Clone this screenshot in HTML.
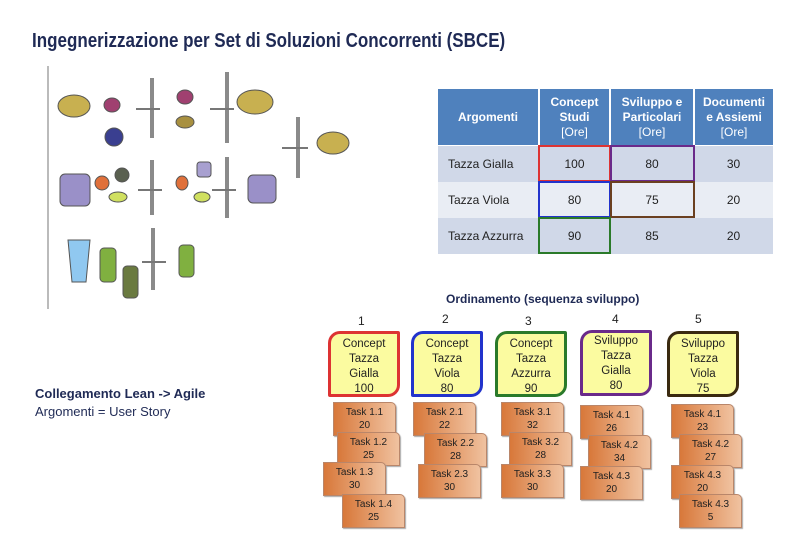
<!DOCTYPE html>
<html><head><meta charset="utf-8"><style>
body{margin:0;width:800px;height:557px;background:#fff;position:relative;overflow:hidden;font-family:"Liberation Sans",sans-serif;}
.a{position:absolute;}
.t{position:absolute;left:32px;top:30px;font-size:20px;font-weight:bold;color:#1f2a55;white-space:nowrap;transform:scaleX(0.85);transform-origin:left top;}
table{position:absolute;left:438px;top:89px;border-collapse:collapse;font-size:12px;table-layout:fixed;}
td{padding:0;text-align:center;color:#222}
.h td{background:#4f81bd;color:#fff;font-weight:bold;height:56px;border-right:2px solid #fff;line-height:15px}
.r1 td{background:#d0d8e8;height:36px;border-top:1px solid #fff}
.r2 td{background:#e9edf4;height:36px}
.r3 td{background:#d0d8e8;height:36px}
td.l{text-align:left;padding-left:10px}
.bx{position:absolute;border:2px solid;box-sizing:border-box;}
.card{position:absolute;width:72px;height:66px;background:#fbfba0;border:3px solid;box-sizing:border-box;border-radius:12px 2px 12px 2px;font-size:11.5px;text-align:center;line-height:15px;padding-top:3px;color:#222}
.num{position:absolute;font-size:12px;color:#222}
.task{position:absolute;width:63px;height:34px;background:linear-gradient(90deg,#d8783a,#f0c2a0);border:1px solid #b9866a;box-sizing:border-box;border-radius:0 5px 0 0;font-size:10px;text-align:center;line-height:13px;padding-top:3px;color:#222;box-shadow:1px 1px 1px #aaa}
</style></head><body>
<div class="t">Ingegnerizzazione per Set di Soluzioni Concorrenti (SBCE)</div>
<div class="a" style="left:47px;top:66px;width:2px;height:243px;background:#bbb"></div>
<svg class="a" style="left:0;top:0" width="800" height="557">
<g fill="#8a8a8a">
<rect x="150" y="78" width="4" height="60"/><rect x="225" y="72" width="4" height="71"/><rect x="296" y="117" width="4" height="61"/>
<rect x="150" y="160" width="4" height="55"/><rect x="225" y="157" width="4" height="61"/><rect x="151" y="228" width="4" height="62"/>
</g>
<g stroke="#777" stroke-width="2">
<line x1="136" y1="109" x2="160" y2="109"/><line x1="210" y1="109" x2="234" y2="109"/><line x1="282" y1="148" x2="308" y2="148"/>
<line x1="138" y1="190" x2="162" y2="190"/><line x1="212" y1="190" x2="236" y2="190"/><line x1="142" y1="262" x2="166" y2="262"/>
</g>
<g stroke="#555" stroke-width="1">
<ellipse cx="74" cy="106" rx="16" ry="11" fill="#c8b050"/><ellipse cx="112" cy="105" rx="8" ry="7" fill="#a04070"/><ellipse cx="114" cy="137" rx="9" ry="9" fill="#3a3f90"/>
<ellipse cx="185" cy="97" rx="8" ry="7" fill="#a04070"/><ellipse cx="185" cy="122" rx="9" ry="6" fill="#a89040"/>
<ellipse cx="255" cy="102" rx="18" ry="12" fill="#c8b050"/><ellipse cx="333" cy="143" rx="16" ry="11" fill="#c8b050"/>
<rect x="60" y="174" width="30" height="32" rx="5" fill="#9a90c8"/><ellipse cx="102" cy="183" rx="7" ry="7" fill="#e0703a"/><ellipse cx="122" cy="175" rx="7" ry="7" fill="#5a6050"/><ellipse cx="118" cy="197" rx="9" ry="5" fill="#d0e060"/>
<rect x="197" y="162" width="14" height="15" rx="3" fill="#a8a0d0"/><ellipse cx="182" cy="183" rx="6" ry="7" fill="#e0703a"/><ellipse cx="202" cy="197" rx="8" ry="5" fill="#d0e060"/>
<rect x="248" y="175" width="28" height="28" rx="5" fill="#9a90c8"/>
<path d="M68 240 H90 L86 282 H72 Z" fill="#90c8f0"/><rect x="100" y="248" width="16" height="34" rx="4" fill="#80b040"/><rect x="123" y="266" width="15" height="32" rx="4" fill="#6a7a40"/><rect x="179" y="245" width="15" height="32" rx="4" fill="#80b040"/>
</g>
</svg>
<table style="width:335px">
<colgroup><col style="width:101px"><col style="width:71px"><col style="width:84px"><col style="width:79px"></colgroup>
<tr class="h"><td>Argomenti</td><td>Concept<br>Studi<br><span style="font-weight:normal">[Ore]</span></td><td>Sviluppo e<br>Particolari<br><span style="font-weight:normal">[Ore]</span></td><td style="border-right:0">Documenti<br>e Assiemi<br><span style="font-weight:normal">[Ore]</span></td></tr>
<tr class="r1"><td class="l">Tazza Gialla</td><td>100</td><td>80</td><td>30</td></tr>
<tr class="r2"><td class="l">Tazza Viola</td><td>80</td><td>75</td><td>20</td></tr>
<tr class="r3"><td class="l">Tazza Azzurra</td><td>90</td><td>85</td><td>20</td></tr>
</table>
<div class="bx" style="left:538px;top:145px;width:73px;height:37px;border-color:#d33"></div>
<div class="bx" style="left:610px;top:145px;width:85px;height:37px;border-color:#6a2a8a"></div>
<div class="bx" style="left:538px;top:181px;width:73px;height:37px;border-color:#2233cc"></div>
<div class="bx" style="left:610px;top:181px;width:85px;height:37px;border-color:#6b4020"></div>
<div class="bx" style="left:538px;top:217px;width:73px;height:37px;border-color:#2a7a2a"></div>
<div class="a" style="left:446px;top:292px;font-size:12px;font-weight:bold;color:#1f2a55">Ordinamento (sequenza sviluppo)</div>
<div class="num" style="left:358px;top:314px">1</div><div class="num" style="left:442px;top:312px">2</div><div class="num" style="left:525px;top:314px">3</div><div class="num" style="left:612px;top:312px">4</div><div class="num" style="left:695px;top:312px">5</div>
<div class="card" style="left:328px;top:331px;border-color:#d33">Concept<br>Tazza<br>Gialla<br>100</div>
<div class="card" style="left:411px;top:331px;border-color:#2233cc">Concept<br>Tazza<br>Viola<br>80</div>
<div class="card" style="left:495px;top:331px;border-color:#2a7a2a">Concept<br>Tazza<br>Azzurra<br>90</div>
<div class="card" style="left:580px;top:330px;border-color:#6a2a8a;padding-top:1px">Sviluppo<br>Tazza<br>Gialla<br>80</div>
<div class="card" style="left:667px;top:331px;border-color:#3a2a10">Sviluppo<br>Tazza<br>Viola<br>75</div>
<div class="a" style="left:35px;top:386px;font-size:13px;font-weight:bold;color:#1f2a55">Collegamento Lean -&gt; Agile</div>
<div class="a" style="left:35px;top:404px;font-size:13px;color:#1f2a55">Argomenti = User Story</div>
<div class="task" style="left:333px;top:402px">Task 1.1<br>20</div>
<div class="task" style="left:337px;top:432px">Task 1.2<br>25</div>
<div class="task" style="left:323px;top:462px">Task 1.3<br>30</div>
<div class="task" style="left:342px;top:494px">Task 1.4<br>25</div>
<div class="task" style="left:413px;top:402px">Task 2.1<br>22</div>
<div class="task" style="left:424px;top:433px">Task 2.2<br>28</div>
<div class="task" style="left:418px;top:464px">Task 2.3<br>30</div>
<div class="task" style="left:501px;top:402px">Task 3.1<br>32</div>
<div class="task" style="left:509px;top:432px">Task 3.2<br>28</div>
<div class="task" style="left:501px;top:464px">Task 3.3<br>30</div>
<div class="task" style="left:580px;top:405px">Task 4.1<br>26</div>
<div class="task" style="left:588px;top:435px">Task 4.2<br>34</div>
<div class="task" style="left:580px;top:466px">Task 4.3<br>20</div>
<div class="task" style="left:671px;top:404px">Task 4.1<br>23</div>
<div class="task" style="left:679px;top:434px">Task 4.2<br>27</div>
<div class="task" style="left:671px;top:465px">Task 4.3<br>20</div>
<div class="task" style="left:679px;top:494px">Task 4.3<br>5</div>
</body></html>
